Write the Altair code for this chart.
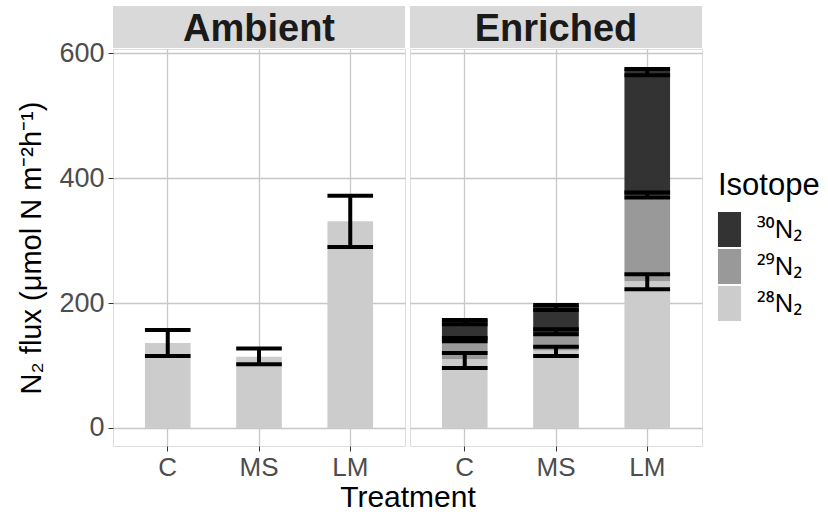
import altair as alt
import pandas as pd

treatments = ["C", "MS", "LM"]
isotopes = ["³⁰N₂", "²⁹N₂", "²⁸N₂"]
iso_colors = ["#333333", "#999999", "#cccccc"]

# Ambient (only 28N2)
amb_28 = [136, 114, 331]
amb_lo = [115, 102, 290]
amb_hi = [157, 127, 372]

# Enriched stacked segments
enr_28 = [110, 124, 235]
enr_29 = [32, 28, 137]
enr_30 = [32, 45, 204]

# Enriched error bars (cumulative positions)
enr_28_lo = [96, 115, 222]
enr_28_hi = [120, 130, 246]
enr_29_lo = [139, 150, 369]
enr_29_hi = [144, 158, 377]
enr_30_lo = [166, 189, 565]
enr_30_hi = [173, 197, 575]

W, H = 292, 397
BW = W / 3.2 * 0.5
GRID = "#c8c8c8"
FONT = "Liberation Sans"

amb_bars = pd.DataFrame({"Treatment": treatments, "Isotope": isotopes[2], "value": amb_28, "ord": 0})
amb_err = pd.DataFrame({"Treatment": treatments, "lo": amb_lo, "hi": amb_hi})

rows = []
for i, t in enumerate(treatments):
    rows.append({"Treatment": t, "Isotope": isotopes[2], "value": enr_28[i], "ord": 0})
    rows.append({"Treatment": t, "Isotope": isotopes[1], "value": enr_29[i], "ord": 1})
    rows.append({"Treatment": t, "Isotope": isotopes[0], "value": enr_30[i], "ord": 2})
enr_bars = pd.DataFrame(rows)
enr_err = pd.DataFrame({
    "Treatment": treatments * 3,
    "lo": enr_28_lo + enr_29_lo + enr_30_lo,
    "hi": enr_28_hi + enr_29_hi + enr_30_hi,
})

yscale = alt.Scale(domain=[-29, 607], nice=False, zero=False)
xscale = alt.Scale(domain=treatments, paddingInner=0.5, paddingOuter=0.35)

legend = alt.Legend(
    title="Isotope", titleFontSize=31, titleFontWeight="normal", titleColor="black",
    labelFontSize=25, labelColor="black", labelFont="Noto Sans",
    symbolType="M-0.66,-1H0.66V1H-0.66Z", symbolSize=1225, symbolStrokeWidth=0,
    symbolOpacity=1, symbolOffset=-6, rowPadding=2, labelOffset=10, titlePadding=10,
    orient="none", legendX=605, legendY=122,
)
color = alt.Color("Isotope:N", scale=alt.Scale(domain=isotopes, range=iso_colors), legend=legend)


def panel(bars_df, err_df, name, show_y):
    xaxis = alt.Axis(title=None, labelFontSize=26, labelColor="#4d4d4d", tickColor="#333333",
                     tickSize=5, domain=False, grid=True, gridColor=GRID, gridWidth=1.3,
                     labelPadding=3, labelAngle=0, bandPosition=0.5)
    if show_y:
        yaxis = alt.Axis(values=[0, 200, 400, 600], title="N₂ flux (μmol N m⁻²h⁻¹)",
                         titleFontSize=29, titleFontWeight="normal", titleColor="black",
                         labelFontSize=27, labelColor="#4d4d4d", tickColor="#333333",
                         tickSize=5, labelPadding=4, domain=False, grid=True,
                         gridColor=GRID, gridWidth=1.3, titlePadding=12)
    else:
        yaxis = alt.Axis(values=[0, 200, 400, 600], title=None, labels=False, ticks=False,
                         domain=False, grid=True, gridColor=GRID, gridWidth=1.3)
    x = alt.X("Treatment:N", scale=xscale, axis=xaxis, sort=treatments)
    bars = alt.Chart(bars_df).mark_bar().encode(
        x=x,
        y=alt.Y("value:Q", stack="zero", scale=yscale, axis=yaxis),
        color=color,
        order=alt.Order("ord:Q", sort="ascending"),
    )
    xe = alt.X("Treatment:N", scale=xscale, sort=treatments)
    rule = alt.Chart(err_df).mark_rule(strokeWidth=4, color="black").encode(
        x=xe, y=alt.Y("lo:Q", scale=yscale), y2="hi:Q")
    cap_lo = alt.Chart(err_df).mark_tick(thickness=4, size=BW, color="black", opacity=1).encode(
        x=xe, y=alt.Y("lo:Q", scale=yscale))
    cap_hi = alt.Chart(err_df).mark_tick(thickness=4, size=BW, color="black", opacity=1).encode(
        x=xe, y=alt.Y("hi:Q", scale=yscale))
    sdf = pd.DataFrame({"label": [name]})
    strip = alt.Chart(sdf).mark_rect(color="#d9d9d9").encode(
        x=alt.value(0), x2=alt.value(W), y=alt.value(-43), y2=alt.value(-1))
    stext = alt.Chart(sdf).mark_text(fontSize=38, fontWeight="bold", font=FONT, color="#1a1a1a",
                                     baseline="alphabetic", align="center").encode(
        x=alt.value(W / 2), y=alt.value(-8), text="label:N")
    layers = [bars, rule, cap_lo, cap_hi, strip, stext]
    if show_y:
        tdf = pd.DataFrame({"t": ["Treatment"]})
        ttl = alt.Chart(tdf).mark_text(fontSize=30, font=FONT, color="black",
                                       baseline="alphabetic", align="center").encode(
            x=alt.value(W + 3), y=alt.value(458), text="t:N")
        layers.append(ttl)
    return alt.layer(*layers).properties(width=W, height=H)


amb = panel(amb_bars, amb_err, "Ambient", True)
enr = panel(enr_bars, enr_err, "Enriched", False)

chart = alt.hconcat(amb, enr, spacing=5, bounds="flush").resolve_scale(color="shared").configure_view(
    stroke="#333333", strokeWidth=1
).configure(font=FONT, padding={"left": 17, "top": 5, "right": 5, "bottom": 5}, background="white")

chart.save("out.html", embed_options={"renderer": "svg", "actions": False})
